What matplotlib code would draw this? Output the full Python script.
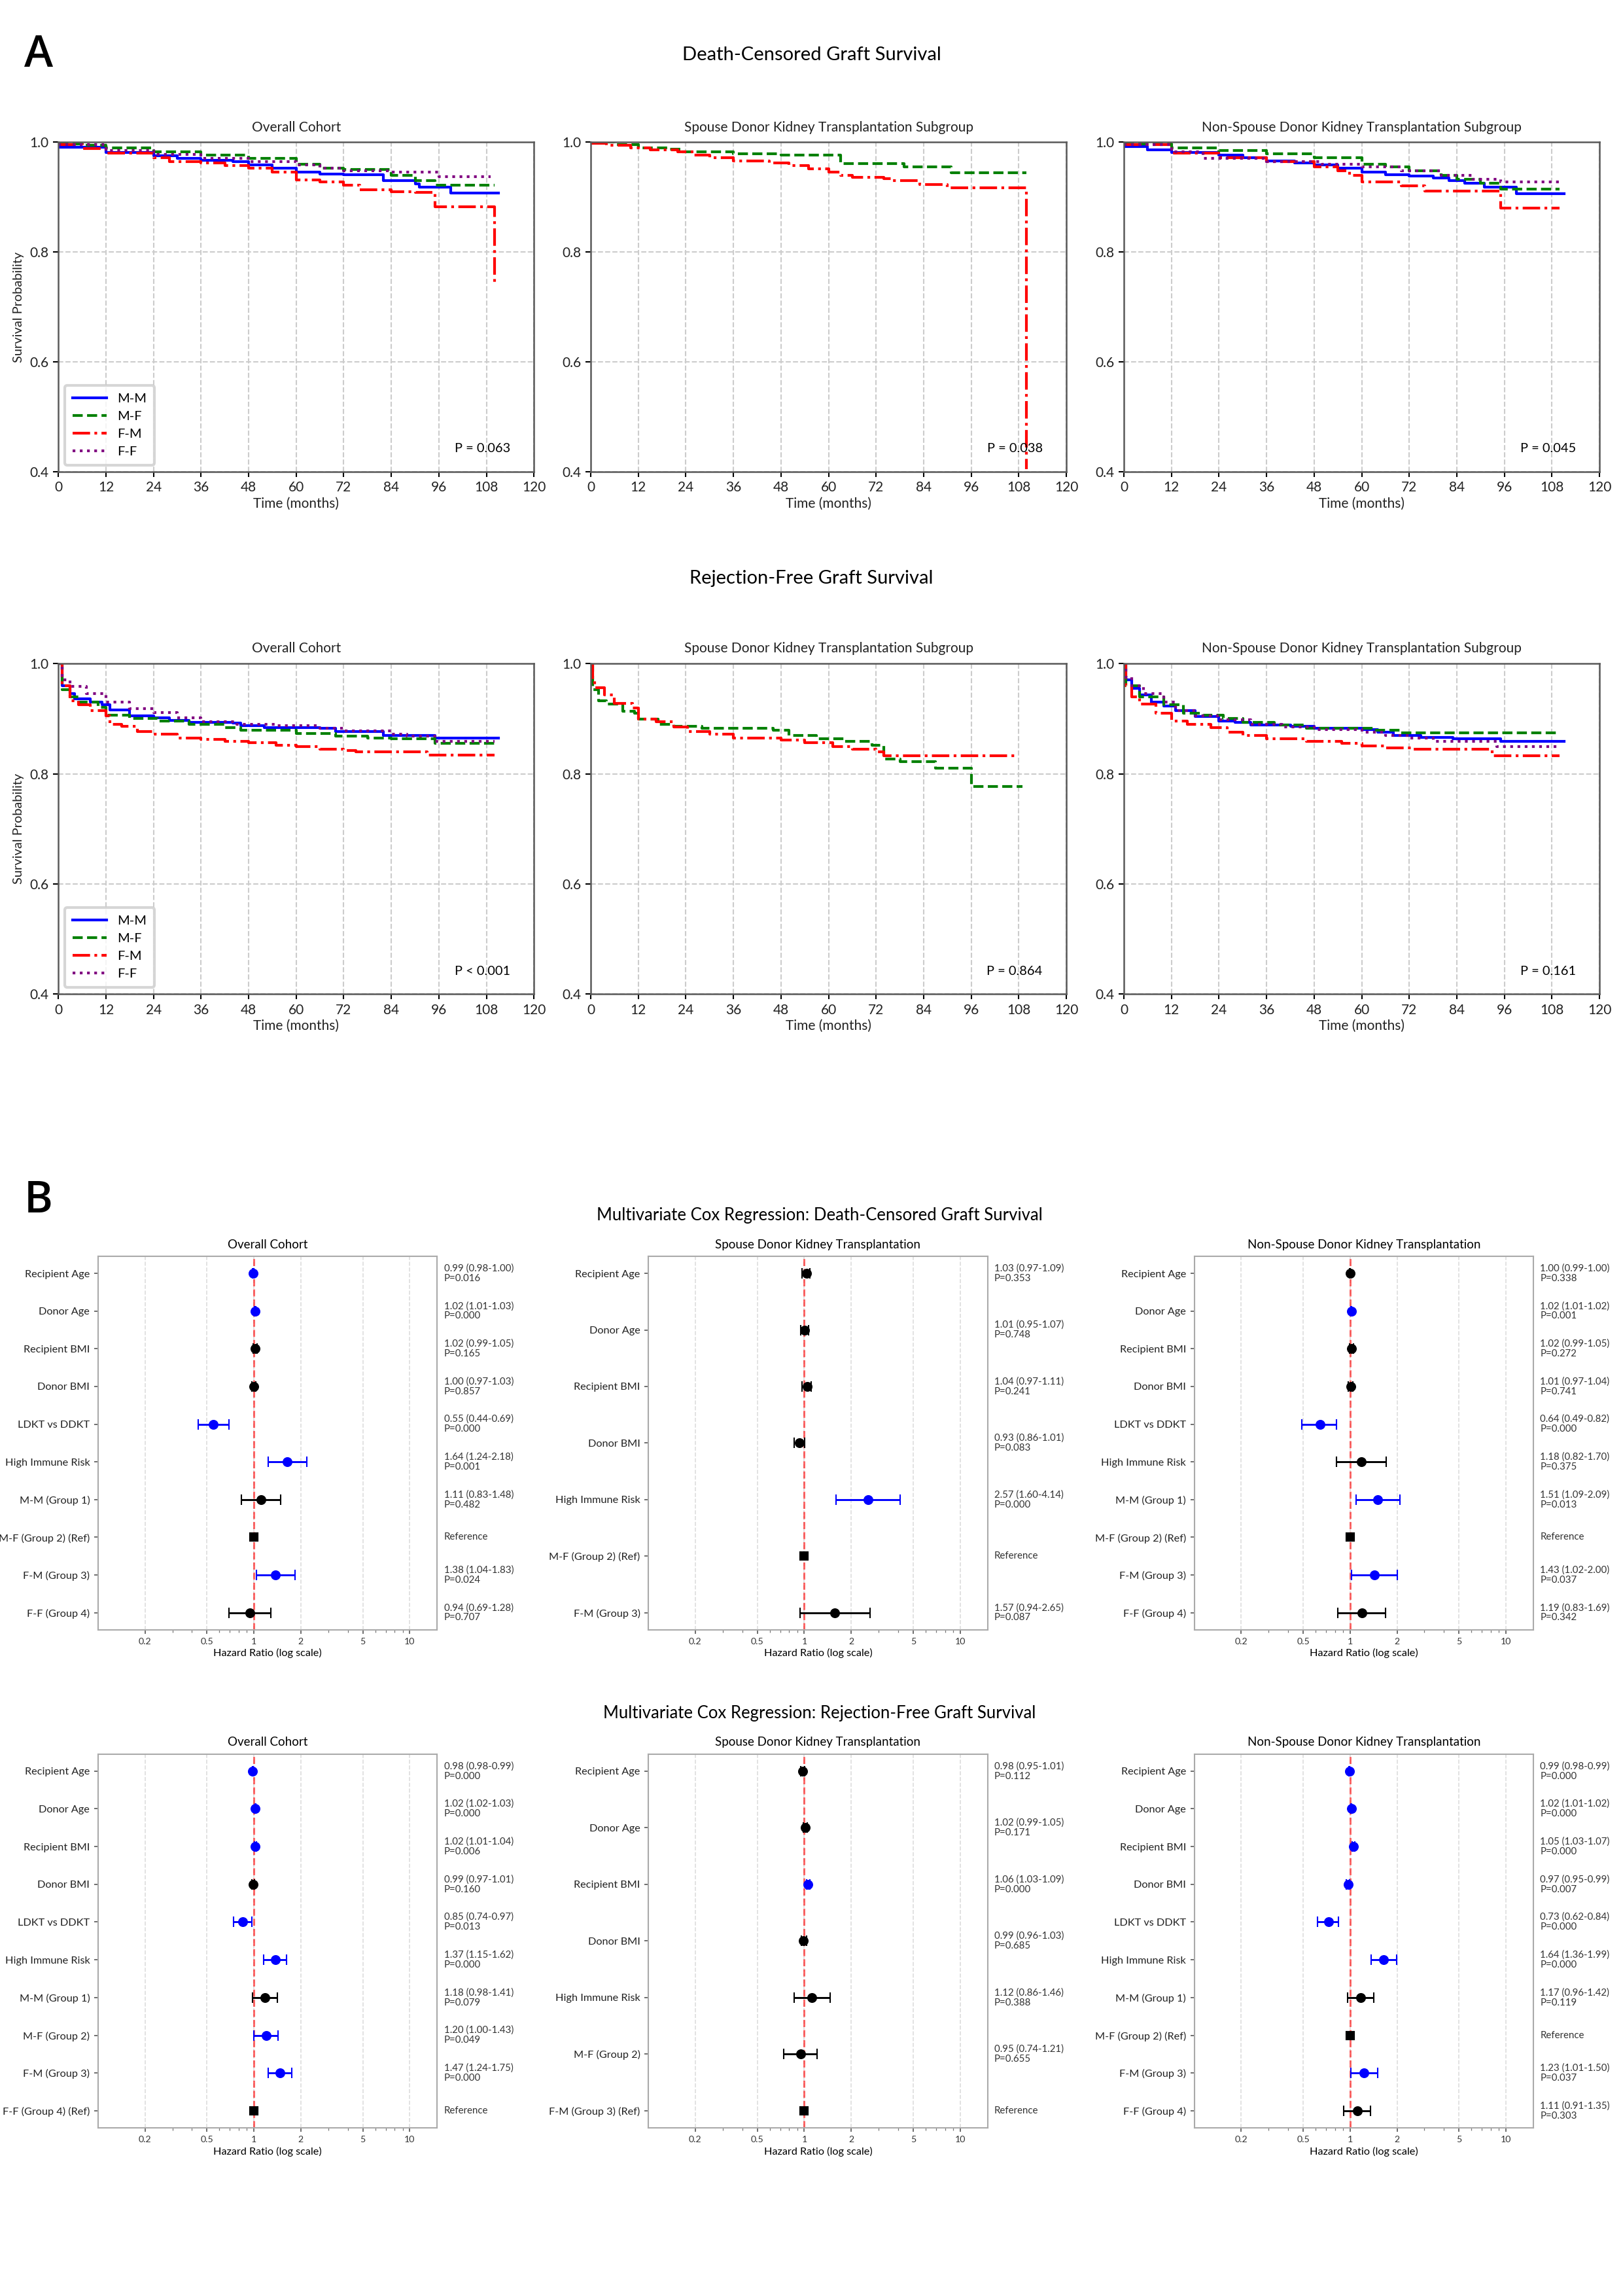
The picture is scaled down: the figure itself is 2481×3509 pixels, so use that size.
import numpy as np
import matplotlib
matplotlib.use("Agg")
import matplotlib.pyplot as plt
import matplotlib.transforms as mtransforms

plt.rcParams['font.family'] = ['Lato', 'DejaVu Sans']

# ---------------- Kaplan-Meier data (months, survival) ----------------
groups = ["M-M", "M-F", "F-M", "F-F"]
colors = {"M-M": "blue", "M-F": "green", "F-M": "red", "F-F": "purple"}
styles = {"M-M": "-", "M-F": "--", "F-M": "-.", "F-F": ":"}
months = [0, 12, 24, 36, 48, 60, 72, 84, 96, 108, 120]

# death-censored, overall cohort
dc_all_mm_t = [0, 12, 24, 30, 36, 44, 48, 54, 60, 66, 72, 82, 90, 91, 99, 111]
dc_all_mm_s = [0.991, 0.981, 0.975, 0.971, 0.967, 0.964, 0.958, 0.953, 0.946, 0.942, 0.941, 0.930, 0.924, 0.918, 0.907, 0.907]
dc_all_mf_t = [0, 6, 12, 24, 36, 48, 60, 66, 72, 84, 90, 95, 110]
dc_all_mf_s = [0.997, 0.994, 0.990, 0.982, 0.976, 0.970, 0.960, 0.953, 0.950, 0.939, 0.930, 0.922, 0.922]
dc_all_fm_t = [0, 6, 12, 24, 28, 36, 42, 48, 54, 60, 66, 72, 76, 84, 90, 95, 110, 110]
dc_all_fm_s = [0.995, 0.988, 0.980, 0.972, 0.965, 0.962, 0.957, 0.952, 0.945, 0.931, 0.927, 0.922, 0.913, 0.910, 0.908, 0.882, 0.745, 0.745]
dc_all_ff_t = [0, 12, 24, 36, 48, 60, 66, 72, 84, 96, 109]
dc_all_ff_s = [0.995, 0.985, 0.978, 0.970, 0.965, 0.958, 0.953, 0.948, 0.945, 0.937, 0.937]

# death-censored, spouse donor
dc_sp_mf_t = [0, 6, 12, 20, 23, 36, 48, 63, 79, 91, 110]
dc_sp_mf_s = [1.0, 0.995, 0.990, 0.987, 0.982, 0.979, 0.976, 0.961, 0.955, 0.944, 0.944]
dc_sp_fm_t = [0, 4, 10, 15, 22, 26, 30, 36, 45, 50, 55, 60, 63, 66, 74, 76, 83, 90, 110, 110]
dc_sp_fm_s = [0.998, 0.994, 0.990, 0.986, 0.982, 0.976, 0.972, 0.966, 0.962, 0.957, 0.951, 0.945, 0.940, 0.936, 0.933, 0.930, 0.923, 0.917, 0.405, 0.405]

# death-censored, non-spouse donor
dc_ns_mm_t = [0, 6, 12, 24, 30, 36, 43, 48, 54, 60, 66, 72, 78, 82, 86, 91, 99, 111]
dc_ns_mm_s = [0.992, 0.986, 0.981, 0.976, 0.972, 0.966, 0.962, 0.958, 0.953, 0.945, 0.941, 0.938, 0.935, 0.930, 0.925, 0.918, 0.906, 0.906]
dc_ns_mf_t = [0, 12, 24, 36, 48, 60, 66, 72, 80, 84, 90, 95, 110]
dc_ns_mf_s = [0.997, 0.990, 0.985, 0.979, 0.972, 0.960, 0.955, 0.948, 0.940, 0.932, 0.925, 0.914, 0.914]
dc_ns_fm_t = [0, 12, 24, 36, 48, 54, 57, 60, 70, 76, 95, 110]
dc_ns_fm_s = [0.995, 0.980, 0.972, 0.964, 0.955, 0.948, 0.940, 0.928, 0.920, 0.911, 0.880, 0.880]
dc_ns_ff_t = [0, 12, 20, 36, 50, 60, 70, 80, 88, 95, 110]
dc_ns_ff_s = [0.995, 0.982, 0.970, 0.965, 0.960, 0.955, 0.948, 0.940, 0.932, 0.927, 0.927]

# rejection-free, overall cohort
rf_all_mm_t = [0, 1, 3, 4, 8, 11, 13, 18, 24, 28, 33, 44, 46, 52, 66, 70, 82, 95, 111]
rf_all_mm_s = [1.0, 0.960, 0.946, 0.936, 0.930, 0.925, 0.916, 0.905, 0.902, 0.897, 0.893, 0.892, 0.887, 0.884, 0.882, 0.877, 0.870, 0.865, 0.865]
rf_all_mf_t = [0, 1, 3, 5, 10, 12, 18, 25, 33, 42, 46, 60, 70, 78, 84, 95, 110]
rf_all_mf_s = [1.0, 0.953, 0.940, 0.930, 0.920, 0.906, 0.900, 0.896, 0.890, 0.884, 0.879, 0.873, 0.868, 0.865, 0.863, 0.855, 0.855]
rf_all_fm_t = [0, 1, 3, 5, 8, 12, 13, 16, 20, 24, 30, 36, 42, 48, 55, 60, 66, 72, 75, 93, 110]
rf_all_fm_s = [1.0, 0.960, 0.933, 0.925, 0.915, 0.905, 0.890, 0.886, 0.877, 0.872, 0.865, 0.862, 0.859, 0.856, 0.852, 0.849, 0.845, 0.842, 0.840, 0.834, 0.834]
rf_all_ff_t = [0, 1, 3, 7, 12, 18, 24, 30, 36, 45, 55, 66, 72, 84, 88, 95, 110]
rf_all_ff_s = [1.0, 0.970, 0.958, 0.945, 0.930, 0.918, 0.911, 0.902, 0.895, 0.890, 0.887, 0.883, 0.878, 0.872, 0.868, 0.859, 0.859]

# rejection-free, spouse donor
rf_sp_mf_t = [0, 0.5, 2, 4, 8, 11, 12, 17, 21, 28, 46, 50, 57, 64, 71, 74, 78, 87, 96, 109]
rf_sp_mf_s = [1.0, 0.953, 0.933, 0.926, 0.914, 0.910, 0.899, 0.890, 0.886, 0.882, 0.879, 0.869, 0.864, 0.859, 0.852, 0.827, 0.822, 0.810, 0.777, 0.777]
rf_sp_fm_t = [0, 0.5, 1, 3.5, 6, 10.5, 12, 16.5, 21, 24.5, 30, 36, 48, 54, 61, 66, 72, 74, 108]
rf_sp_fm_s = [1.0, 0.970, 0.956, 0.943, 0.928, 0.919, 0.899, 0.894, 0.885, 0.877, 0.872, 0.865, 0.861, 0.857, 0.849, 0.844, 0.840, 0.833, 0.833]

# rejection-free, non-spouse donor
rf_ns_mm_t = [0, 0.5, 2, 4, 7, 10, 13, 18, 24, 28, 32, 42, 48, 60, 64, 68, 75, 83, 95, 111]
rf_ns_mm_s = [1.0, 0.970, 0.955, 0.943, 0.930, 0.923, 0.915, 0.904, 0.896, 0.893, 0.889, 0.886, 0.883, 0.880, 0.875, 0.869, 0.866, 0.863, 0.859, 0.859]
rf_ns_mf_t = [0, 0.5, 4, 10, 15, 20, 25, 30, 38, 46, 63, 70, 110]
rf_ns_mf_s = [1.0, 0.960, 0.940, 0.925, 0.910, 0.906, 0.900, 0.893, 0.888, 0.883, 0.879, 0.874, 0.874]
rf_ns_fm_t = [0, 0.5, 2, 4, 8, 12, 16, 22, 26, 30, 36, 46, 55, 60, 66, 73, 93, 110]
rf_ns_fm_s = [1.0, 0.960, 0.940, 0.926, 0.910, 0.896, 0.890, 0.884, 0.876, 0.869, 0.864, 0.859, 0.855, 0.851, 0.847, 0.844, 0.833, 0.833]
rf_ns_ff_t = [0, 0.5, 2, 5, 10, 13, 18, 24, 32, 40, 48, 60, 66, 72, 78, 94, 110]
rf_ns_ff_s = [1.0, 0.975, 0.960, 0.945, 0.930, 0.915, 0.905, 0.898, 0.890, 0.885, 0.880, 0.876, 0.870, 0.865, 0.859, 0.849, 0.849]

km_titles = ["Overall Cohort", "Spouse Donor Kidney Transplantation Subgroup",
             "Non-Spouse Donor Kidney Transplantation Subgroup"]
dc_pvals = ["P = 0.063", "P = 0.038", "P = 0.045"]
rf_pvals = ["P < 0.001", "P = 0.864", "P = 0.161"]

# ---------------- Cox regression data ----------------
lab_full = ["Recipient Age", "Donor Age", "Recipient BMI", "Donor BMI", "LDKT vs DDKT",
            "High Immune Risk", "M-M (Group 1)", "M-F (Group 2) (Ref)", "F-M (Group 3)", "F-F (Group 4)"]
lab_sp_dc = ["Recipient Age", "Donor Age", "Recipient BMI", "Donor BMI", "High Immune Risk",
             "M-F (Group 2) (Ref)", "F-M (Group 3)"]
lab_all_rf = ["Recipient Age", "Donor Age", "Recipient BMI", "Donor BMI", "LDKT vs DDKT",
              "High Immune Risk", "M-M (Group 1)", "M-F (Group 2)", "F-M (Group 3)", "F-F (Group 4) (Ref)"]
lab_sp_rf = ["Recipient Age", "Donor Age", "Recipient BMI", "Donor BMI", "High Immune Risk",
             "M-F (Group 2)", "F-M (Group 3) (Ref)"]

# None marks the reference category
dc_all_hr = [0.99, 1.02, 1.02, 1.00, 0.55, 1.64, 1.11, None, 1.38, 0.94]
dc_all_lo = [0.98, 1.01, 0.99, 0.97, 0.44, 1.24, 0.83, None, 1.04, 0.69]
dc_all_hi = [1.00, 1.03, 1.05, 1.03, 0.69, 2.18, 1.48, None, 1.83, 1.28]
dc_all_p = [0.016, 0.000, 0.165, 0.857, 0.000, 0.001, 0.482, None, 0.024, 0.707]

dc_sp_hr = [1.03, 1.01, 1.04, 0.93, 2.57, None, 1.57]
dc_sp_lo = [0.97, 0.95, 0.97, 0.86, 1.60, None, 0.94]
dc_sp_hi = [1.09, 1.07, 1.11, 1.01, 4.14, None, 2.65]
dc_sp_p = [0.353, 0.748, 0.241, 0.083, 0.000, None, 0.087]

dc_ns_hr = [1.00, 1.02, 1.02, 1.01, 0.64, 1.18, 1.51, None, 1.43, 1.19]
dc_ns_lo = [0.99, 1.01, 0.99, 0.97, 0.49, 0.82, 1.09, None, 1.02, 0.83]
dc_ns_hi = [1.00, 1.02, 1.05, 1.04, 0.82, 1.70, 2.09, None, 2.00, 1.69]
dc_ns_p = [0.338, 0.001, 0.272, 0.741, 0.000, 0.375, 0.013, None, 0.037, 0.342]

rf_all_hr = [0.98, 1.02, 1.02, 0.99, 0.85, 1.37, 1.18, 1.20, 1.47, None]
rf_all_lo = [0.98, 1.02, 1.01, 0.97, 0.74, 1.15, 0.98, 1.00, 1.24, None]
rf_all_hi = [0.99, 1.03, 1.04, 1.01, 0.97, 1.62, 1.41, 1.43, 1.75, None]
rf_all_p = [0.000, 0.000, 0.006, 0.160, 0.013, 0.000, 0.079, 0.049, 0.000, None]

rf_sp_hr = [0.98, 1.02, 1.06, 0.99, 1.12, 0.95, None]
rf_sp_lo = [0.95, 0.99, 1.03, 0.96, 0.86, 0.74, None]
rf_sp_hi = [1.01, 1.05, 1.09, 1.03, 1.46, 1.21, None]
rf_sp_p = [0.112, 0.171, 0.000, 0.685, 0.388, 0.655, None]

rf_ns_hr = [0.99, 1.02, 1.05, 0.97, 0.73, 1.64, 1.17, None, 1.23, 1.11]
rf_ns_lo = [0.98, 1.01, 1.03, 0.95, 0.62, 1.36, 0.96, None, 1.01, 0.91]
rf_ns_hi = [0.99, 1.02, 1.07, 0.99, 0.84, 1.99, 1.42, None, 1.50, 1.35]
rf_ns_p = [0.000, 0.000, 0.000, 0.007, 0.000, 0.000, 0.119, None, 0.037, 0.303]

cox_titles = ["Overall Cohort", "Spouse Donor Kidney Transplantation",
              "Non-Spouse Donor Kidney Transplantation"]
hr_ticks = [0.2, 0.5, 1, 2, 5, 10]


def km_panel(ax, curves, title, ptxt, ylabel=False, legend=False):
    for name, t, s in curves:
        ax.step(t, s, where='post', color=colors[name], ls=styles[name], lw=1.0, label=name)
    ax.set_xlim(0, 120)
    ax.set_ylim(0.4, 1.0)
    ax.set_xticks(months)
    ax.set_yticks([0.4, 0.6, 0.8, 1.0])
    ax.grid(True, ls='--', color='#cccccc', lw=0.5)
    ax.tick_params(labelsize=5, length=2, width=0.5, pad=1.5, labelcolor='#222222')
    for sp in ax.spines.values():
        sp.set_color('0.35')
        sp.set_linewidth(0.6)
    ax.set_title(title, fontsize=5, pad=4, color='#222222')
    ax.set_xlabel('Time (months)', fontsize=5, labelpad=1, color='#222222')
    if ylabel:
        ax.set_ylabel('Survival Probability', fontsize=4.8, labelpad=2, color='#222222')
    ax.text(0.95, 0.07, ptxt, transform=ax.transAxes, ha='right', va='center', fontsize=4.8)
    if legend:
        ax.legend(loc='lower left', fontsize=4.8, handlelength=2.6, frameon=True,
                  edgecolor='#cccccc', borderpad=0.6, labelspacing=0.5)


def forest_panel(ax, labels, hr, lo, hi, pv, title):
    y = np.arange(len(labels))
    trans = mtransforms.blended_transform_factory(ax.transAxes, ax.transData)
    for i in range(len(labels)):
        if hr[i] is None:
            ax.plot(1.0, y[i], 's', color='black', ms=2.6, zorder=3)
            txt = 'Reference'
        else:
            c = 'blue' if pv[i] < 0.05 else 'black'
            ax.errorbar(hr[i], y[i], xerr=[[hr[i] - lo[i]], [hi[i] - hr[i]]], fmt='o',
                        color=c, ms=2.6, capsize=2, lw=0.7, capthick=0.5, zorder=3)
            txt = f'{hr[i]:.2f} ({lo[i]:.2f}-{hi[i]:.2f})\nP={pv[i]:.3f}'
        ax.text(1.02, y[i], txt, transform=trans, fontsize=3.6, va='center', ha='left',
                color='#333333', linespacing=1.1)
    ax.axvline(1, color='red', ls='--', lw=0.7, alpha=0.6, zorder=2)
    ax.set_xscale('log')
    ax.set_xlim(0.1, 15)
    ax.set_xticks(hr_ticks)
    ax.set_xticklabels([str(v) for v in hr_ticks])
    ax.set_yticks(y)
    ax.set_yticklabels(labels)
    ax.invert_yaxis()
    ax.grid(True, axis='x', ls='--', color='#dddddd', lw=0.4)
    ax.tick_params(axis='y', labelsize=3.9, length=1.5, width=0.4, pad=1.5, colors='#555555',
                   labelcolor='#222222')
    ax.tick_params(axis='x', labelsize=3.4, length=1.5, width=0.4, pad=1.5, colors='#555555',
                   labelcolor='#333333')
    ax.tick_params(axis='x', which='minor', length=1, width=0.3, colors='#777777')
    for sp in ax.spines.values():
        sp.set_color('#aaaaaa')
        sp.set_linewidth(0.5)
    ax.set_title(title, fontsize=4.5, pad=3)
    ax.set_xlabel('Hazard Ratio (log scale)', fontsize=3.9, labelpad=1)


fig = plt.figure(figsize=(2481 / 300, 3509 / 300), dpi=300)

km_x = [0.036, 0.364, 0.6925]
km_w = 0.293

fig.text(0.015, 0.976, 'A', fontsize=16, va='center', ha='left', fontweight='semibold',
         family=['Open Sans', 'DejaVu Sans'])
fig.text(0.5, 0.976, 'Death-Censored Graft Survival', fontsize=7, ha='center', va='center')
dc_curves = [
    [("M-M", dc_all_mm_t, dc_all_mm_s), ("M-F", dc_all_mf_t, dc_all_mf_s),
     ("F-M", dc_all_fm_t, dc_all_fm_s), ("F-F", dc_all_ff_t, dc_all_ff_s)],
    [("M-F", dc_sp_mf_t, dc_sp_mf_s), ("F-M", dc_sp_fm_t, dc_sp_fm_s)],
    [("M-M", dc_ns_mm_t, dc_ns_mm_s), ("M-F", dc_ns_mf_t, dc_ns_mf_s),
     ("F-M", dc_ns_fm_t, dc_ns_fm_s), ("F-F", dc_ns_ff_t, dc_ns_ff_s)],
]
for j in range(3):
    ax = fig.add_axes([km_x[j], 0.7946, km_w, 0.1435])
    km_panel(ax, dc_curves[j], km_titles[j], dc_pvals[j], ylabel=(j == 0), legend=(j == 0))

fig.text(0.5, 0.748, 'Rejection-Free Graft Survival', fontsize=7, ha='center', va='center')
rf_curves = [
    [("M-M", rf_all_mm_t, rf_all_mm_s), ("M-F", rf_all_mf_t, rf_all_mf_s),
     ("F-M", rf_all_fm_t, rf_all_fm_s), ("F-F", rf_all_ff_t, rf_all_ff_s)],
    [("M-F", rf_sp_mf_t, rf_sp_mf_s), ("F-M", rf_sp_fm_t, rf_sp_fm_s)],
    [("M-M", rf_ns_mm_t, rf_ns_mm_s), ("M-F", rf_ns_mf_t, rf_ns_mf_s),
     ("F-M", rf_ns_fm_t, rf_ns_fm_s), ("F-F", rf_ns_ff_t, rf_ns_ff_s)],
]
for j in range(3):
    ax = fig.add_axes([km_x[j], 0.567, km_w, 0.144])
    km_panel(ax, rf_curves[j], km_titles[j], rf_pvals[j], ylabel=(j == 0), legend=(j == 0))

# ---------------- panel B ----------------
fo_x = [0.0604, 0.3995, 0.7358]
fo_w = 0.209

fig.text(0.015, 0.477, 'B', fontsize=16, va='center', ha='left', fontweight='semibold',
         family=['Open Sans', 'DejaVu Sans'])
fig.text(0.505, 0.4707, 'Multivariate Cox Regression: Death-Censored Graft Survival',
         fontsize=6.2, ha='center', va='center')
dc_sets = [(lab_full, dc_all_hr, dc_all_lo, dc_all_hi, dc_all_p),
           (lab_sp_dc, dc_sp_hr, dc_sp_lo, dc_sp_hi, dc_sp_p),
           (lab_full, dc_ns_hr, dc_ns_lo, dc_ns_hi, dc_ns_p)]
for j in range(3):
    ax = fig.add_axes([fo_x[j], 0.2902, fo_w, 0.1626])
    forest_panel(ax, *dc_sets[j], cox_titles[j])

fig.text(0.505, 0.2538, 'Multivariate Cox Regression: Rejection-Free Graft Survival',
         fontsize=6.2, ha='center', va='center')
rf_sets = [(lab_all_rf, rf_all_hr, rf_all_lo, rf_all_hi, rf_all_p),
           (lab_sp_rf, rf_sp_hr, rf_sp_lo, rf_sp_hi, rf_sp_p),
           (lab_full, rf_ns_hr, rf_ns_lo, rf_ns_hi, rf_ns_p)]
for j in range(3):
    ax = fig.add_axes([fo_x[j], 0.0733, fo_w, 0.1627])
    forest_panel(ax, *rf_sets[j], cox_titles[j])

fig.savefig('out.png', dpi=300, facecolor='white')
